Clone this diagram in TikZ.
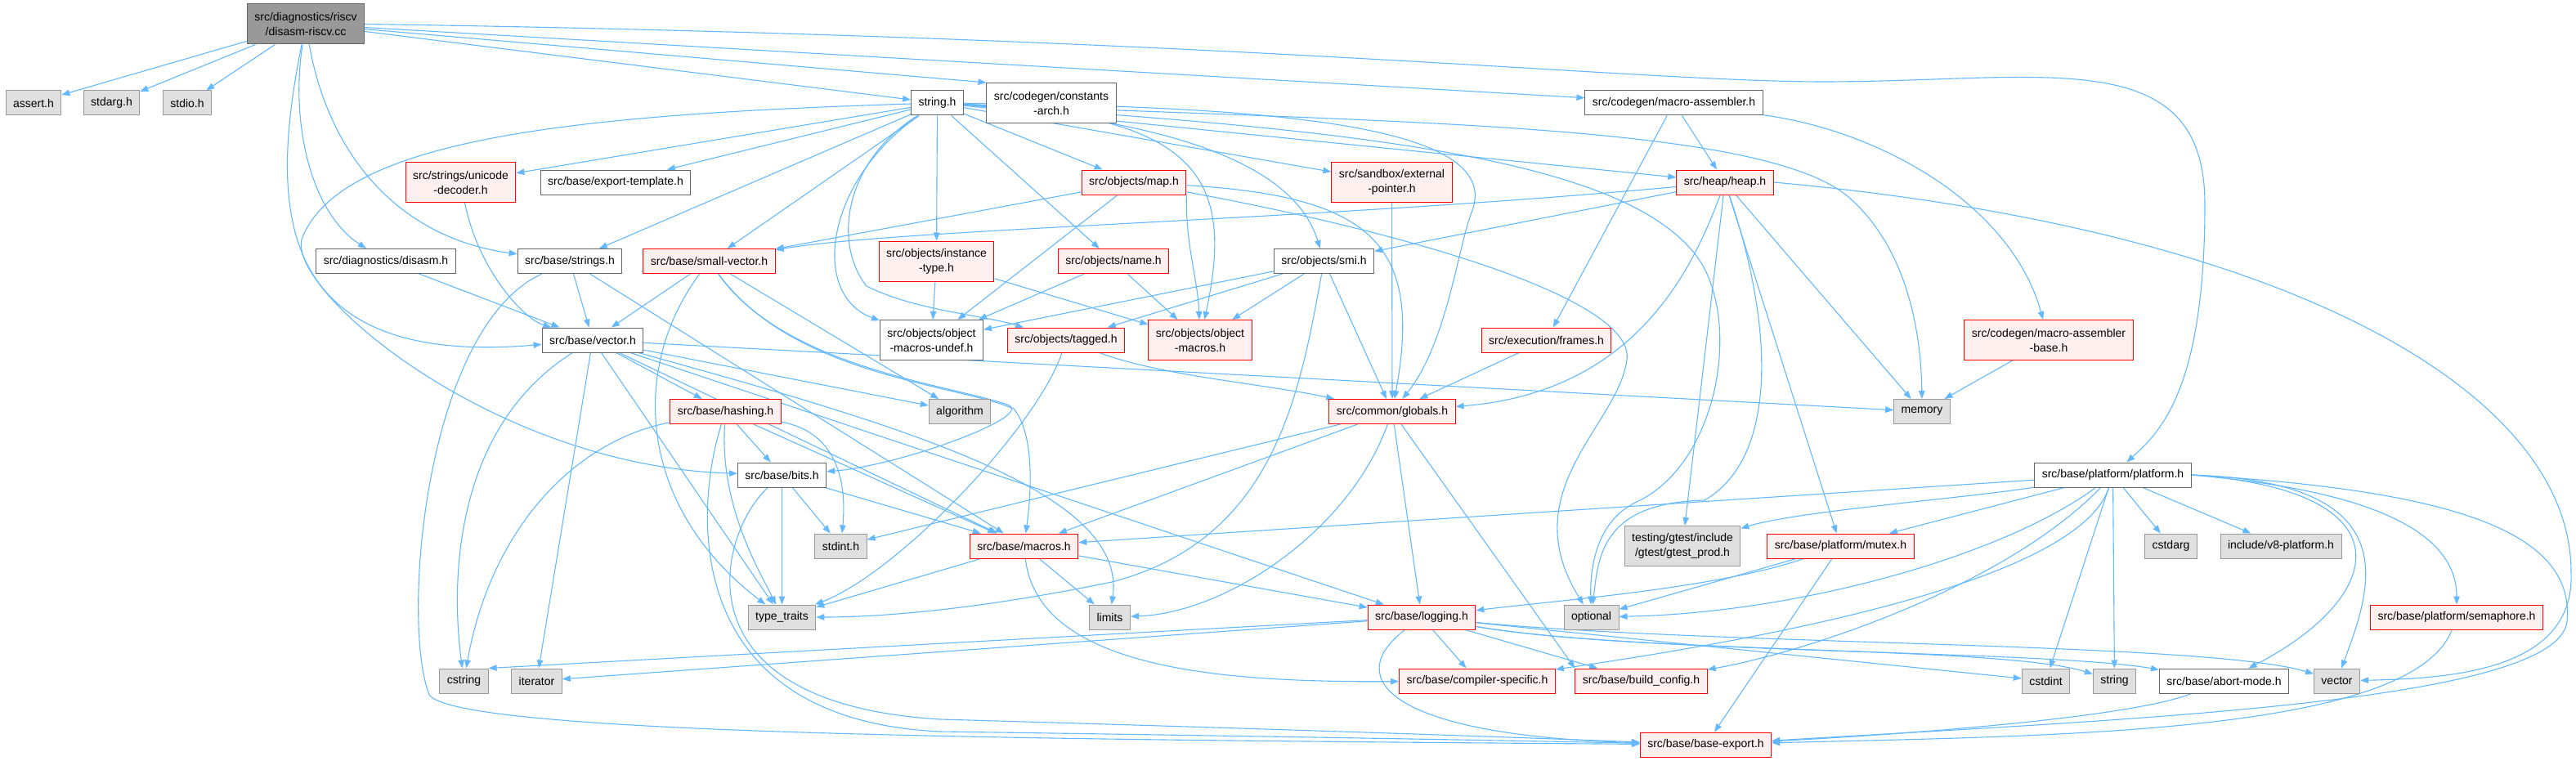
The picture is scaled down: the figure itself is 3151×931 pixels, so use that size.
\documentclass[tikz,border=0pt]{standalone}
\usepackage{fontspec}
\setmainfont{Liberation Sans}
\usetikzlibrary{arrows.meta, backgrounds}
\definecolor{edgeblue}{HTML}{63B8FF}
\definecolor{redfill}{HTML}{FFF0F0}
\definecolor{sysfill}{HTML}{E0E0E0}
\definecolor{grey40}{HTML}{666666}
\definecolor{grey60}{HTML}{999999}

\begin{document}
\begin{tikzpicture}[
  x=1pt, y=-1pt,
  file/.style     = {draw=grey40, fill=white, line width=1pt, align=center,
                     font=\fontsize{14}{18}\selectfont, inner xsep=9pt,
                     inner ysep=6pt, minimum height=30pt},
  redfile/.style  = {file, draw=red, fill=redfill},
  sysfile/.style  = {file, draw=grey60, fill=sysfill},
  rootfile/.style = {file, fill=grey60},
  tall/.style     = {minimum height=49pt},
  inc/.style      = {-{Triangle[length=10pt, width=7.5pt]}, line width=1.1pt, draw=edgeblue},
]
  \useasboundingbox (0,0) rectangle (3151,931);

  \node[rootfile, tall] (root)      at (374,29.5)   {src/diagnostics/riscv\\/disasm-riscv.cc};
  \node[sysfile]        (assert)    at (41,126)     {assert.h};
  \node[sysfile]        (stdarg)    at (136.5,126)  {stdarg.h};
  \node[sysfile]        (stdio)     at (229,126)    {stdio.h};
  \node[file]           (stringh)   at (1146.5,126) {string.h};
  \node[file, tall]     (constarch) at (1286,126)   {src/codegen/constants\\-arch.h};
  \node[file]           (masm)      at (2047.5,126) {src/codegen/macro-assembler.h};

  \node[redfile, tall]  (unicode)   at (563.5,223)  {src/strings/unicode\\-decoder.h};
  \node[file]           (exptmpl)   at (753,223)    {src/base/export-template.h};
  \node[redfile]        (map)       at (1387,223)   {src/objects/map.h};
  \node[redfile, tall]  (extptr)    at (1702.5,223) {src/sandbox/external\\-pointer.h};
  \node[redfile]        (heap)      at (2110,223)   {src/heap/heap.h};

  \node[file]           (disasm)    at (472,319.5)  {src/diagnostics/disasm.h};
  \node[file]           (strings)   at (697,319.5)  {src/base/strings.h};
  \node[redfile]        (smallvec)  at (867.5,319.5) {src/base/small-vector.h};
  \node[redfile, tall]  (insttype)  at (1145.5,319.5) {src/objects/instance\\-type.h};
  \node[redfile]        (objname)   at (1362,319.5) {src/objects/name.h};
  \node[file]           (smi)       at (1619.5,319.5) {src/objects/smi.h};

  \node[file]           (vector)    at (725,416)    {src/base/vector.h};
  \node[file, tall]     (undef)     at (1139.5,416) {src/objects/object\\-macros-undef.h};
  \node[redfile]        (tagged)    at (1304,416)   {src/objects/tagged.h};
  \node[redfile, tall]  (objmacros) at (1468,416)   {src/objects/object\\-macros.h};
  \node[redfile]        (frames)    at (1891.5,416) {src/execution/frames.h};
  \node[redfile, tall]  (masmbase)  at (2506,416)   {src/codegen/macro-assembler\\-base.h};

  \node[redfile]        (hashing)   at (887.5,503.5) {src/base/hashing.h};
  \node[sysfile]        (algorithm) at (1174,503.5) {algorithm};
  \node[redfile]        (globals)   at (1703,503.5) {src/common/globals.h};
  \node[sysfile]        (memory)    at (2351,503.5) {memory};

  \node[file]           (bits)      at (956.5,581)  {src/base/bits.h};
  \node[file]           (platform)  at (2584.5,581) {src/base/platform/platform.h};

  \node[sysfile]        (stdint)    at (1028.5,668) {stdint.h};
  \node[redfile]        (macros)    at (1252.5,668) {src/base/macros.h};
  \node[sysfile, tall]  (gtest)     at (2058,668)   {testing/gtest/include\\/gtest/gtest\_prod.h};
  \node[redfile]        (mutex)     at (2251.5,668) {src/base/platform/mutex.h};
  \node[sysfile]        (cstdarg)   at (2655.5,668) {cstdarg};
  \node[sysfile]        (v8plat)    at (2790,668)   {include/v8-platform.h};

  \node[sysfile]        (typetraits) at (956.5,755) {type\_traits};
  \node[sysfile]        (limits)    at (1357.5,755) {limits};
  \node[redfile]        (logging)   at (1739,755)   {src/base/logging.h};
  \node[sysfile]        (optional)  at (1946.5,755) {optional};
  \node[redfile]        (semaphore) at (3005,755)   {src/base/platform/semaphore.h};

  \node[sysfile]        (cstring)   at (567.5,833)  {cstring};
  \node[sysfile]        (iterator)  at (656.5,833)  {iterator};
  \node[redfile]        (compspec)  at (1807,833)   {src/base/compiler-specific.h};
  \node[redfile]        (buildcfg)  at (2007.5,833) {src/base/build\_config.h};
  \node[sysfile]        (cstdint)   at (2502.5,833) {cstdint};
  \node[sysfile]        (stringx)   at (2586.5,833) {string};
  \node[file]           (abort)     at (2720.5,833) {src/base/abort-mode.h};
  \node[sysfile]        (vectorx)   at (2858.5,833) {vector};

  \node[redfile]        (baseexp)   at (2086.5,911) {src/base/base-export.h};

  \begin{scope}[on background layer]
  % disasm-riscv.cc
  \draw[inc] (root) -- (assert);
  \draw[inc] (root) -- (stdarg);
  \draw[inc] (root) -- (stdio);
  \draw[inc] (root) -- (stringh);
  \draw[inc] (root) -- (constarch.north west);
  \draw[inc] (root) -- (masm);
  \draw[inc] (root.east) .. controls (1500,45) and (2000,100) .. (2230,100)
             .. controls (2500,100) and (2697,50) .. (2697,250)
             .. controls (2697,480) and (2640,530) .. (platform);
  \draw[inc] (root) .. controls (355,150) and (380,260) .. (disasm);
  \draw[inc] (root) .. controls (400,180) and (480,290) .. (strings);
  \draw[inc] (root) .. controls (330,250) and (330,450) .. (vector);

  % string.h
  \draw[inc] (stringh) -- (unicode);
  \draw[inc] (stringh) -- (exptmpl);
  \draw[inc] (stringh) -- (strings);
  \draw[inc] (stringh) -- (smallvec);
  \draw[inc] (stringh) .. controls (700,140) and (420,170) .. (370,290)
             .. controls (345,350) and (600,570) .. (bits);
  \draw[inc] (stringh) -- (insttype);
  \draw[inc] (stringh) .. controls (1010,220) and (990,360) .. (undef);
  \draw[inc] (stringh) .. controls (1030,200) and (1020,300) .. (1060,350)
             .. controls (1120,380) and (1200,385) .. (tagged);
  \draw[inc] (stringh) -- (objname);
  \draw[inc] (stringh) -- (map);
  \draw[inc] (stringh) .. controls (1470,140) and (1510,220) .. (objmacros);
  \draw[inc] (stringh) .. controls (1400,145) and (1580,190) .. (smi);
  \draw[inc] (stringh) -- (extptr);
  \draw[inc] (stringh) -- (heap);
  \draw[inc] (stringh) .. controls (1600,130) and (1840,160) .. (1800,260)
             .. controls (1784,300) and (1770,420) .. (globals);
  \draw[inc] (stringh) .. controls (1700,150) and (2150,150) .. (2260,240)
             .. controls (2330,300) and (2350,400) .. (memory);
  \draw[inc] (stringh) .. controls (1700,160) and (2000,200) .. (2080,320)
             .. controls (2130,400) and (2100,570) .. (2000,615)
             .. controls (1950,640) and (1945,700) .. (optional);

  % objects
  \draw[inc] (map) -- (smallvec);
  \draw[inc] (map) -- (undef);
  \draw[inc] (map.south east) .. controls (1450,300) and (1465,340) .. (objmacros);
  \draw[inc] (map) .. controls (1680,240) and (1740,300) .. (globals);
  \draw[inc] (map) .. controls (1750,290) and (2000,370) .. (1990,440)
             .. controls (1980,520) and (1850,600) .. (optional);
  \draw[inc] (insttype) -- (undef);
  \draw[inc] (insttype) -- (objmacros);
  \draw[inc] (objname) -- (undef);
  \draw[inc] (objname) -- (objmacros);
  \draw[inc] (smi) -- (undef);
  \draw[inc] (smi) -- (tagged);
  \draw[inc] (smi) -- (objmacros);
  \draw[inc] (smi) -- (globals);
  \draw[inc] (smi) .. controls (1590,480) and (1560,660) .. (1360,712)
             .. controls (1200,745) and (1080,755) .. (typetraits);
  \draw[inc] (tagged) .. controls (1420,460) and (1550,470) .. (globals);
  \draw[inc] (tagged) .. controls (1270,520) and (1100,700) .. (typetraits);
  \draw[inc] (extptr) -- (globals);
  \draw[inc] (frames) -- (globals);

  % heap and codegen
  \draw[inc] (heap) -- (smi);
  \draw[inc] (heap) .. controls (1600,270) and (1100,280) .. (smallvec);
  \draw[inc] (heap) .. controls (2070,330) and (2000,480) .. (globals);
  \draw[inc] (heap) .. controls (2170,400) and (2175,560) .. (2085,612)
             .. controls (1960,615) and (1955,680) .. (optional);
  \draw[inc] (heap) -- (gtest);
  \draw[inc] (heap) -- (mutex);
  \draw[inc] (heap) -- (memory);
  \draw[inc] (heap.east) .. controls (2800,280) and (3145,480) .. (3145,700)
             .. controls (3150,820) and (3000,830) .. (vectorx);
  \draw[inc] (masm) -- (heap);
  \draw[inc] (masm) -- (frames);
  \draw[inc] (masm) .. controls (2300,160) and (2460,250) .. (masmbase);
  \draw[inc] (masmbase) -- (memory);

  % base
  \draw[inc] (unicode) .. controls (585,330) and (640,390) .. (vector);
  \draw[inc] (disasm) -- (vector);
  \draw[inc] (strings) -- (vector);
  \draw[inc] (strings) -- (macros);
  \draw[inc] (strings) .. controls (520,400) and (490,760) .. (525,850)
             .. controls (560,900) and (1300,905) .. (baseexp);
  \draw[inc] (smallvec) -- (vector);
  \draw[inc] (smallvec) -- (algorithm);
  \draw[inc] (smallvec) .. controls (770,450) and (780,620) .. (typetraits);
  \draw[inc] (smallvec) .. controls (960,450) and (1160,470) .. (1232,495)
             .. controls (1270,508) and (1100,570) .. (bits);
  \draw[inc] (smallvec) .. controls (970,460) and (1170,470) .. (1240,500)
             .. controls (1265,530) and (1262,600) .. (macros);
  \draw[inc] (vector) -- (hashing);
  \draw[inc] (vector) -- (algorithm);
  \draw[inc] (vector) .. controls (560,520) and (550,700) .. (cstring);
  \draw[inc] (vector) -- (iterator);
  \draw[inc] (vector) -- (typetraits);
  \draw[inc] (vector) -- (macros);
  \draw[inc] (vector) .. controls (1100,520) and (1380,600) .. (limits);
  \draw[inc] (vector) -- (memory);
  \draw[inc] (vector) -- (logging);
  \draw[inc] (hashing) -- (bits);
  \draw[inc] (hashing) .. controls (1030,530) and (1035,600) .. (stdint);
  \draw[inc] (hashing) -- (macros);
  \draw[inc] (hashing) .. controls (880,620) and (930,700) .. (typetraits);
  \draw[inc] (hashing) .. controls (700,540) and (600,650) .. (cstring);
  \draw[inc] (hashing) .. controls (850,620) and (830,880) .. (1150,895)
             .. controls (1500,900) and (1800,905) .. (baseexp);
  \draw[inc] (bits) -- (stdint);
  \draw[inc] (bits) -- (typetraits);
  \draw[inc] (bits) -- (macros);
  \draw[inc] (bits) .. controls (880,650) and (820,860) .. (1150,880)
             .. controls (1500,890) and (1800,900) .. (baseexp);
  \draw[inc] (globals) -- (macros);
  \draw[inc] (globals) -- (stdint);
  \draw[inc] (globals) -- (logging);
  \draw[inc] (globals) -- (buildcfg.north west);
  \draw[inc] (globals) .. controls (1650,650) and (1500,750) .. (limits);
  \draw[inc] (macros) -- (typetraits);
  \draw[inc] (macros) -- (limits);
  \draw[inc] (macros) -- (logging);
  \draw[inc] (macros) .. controls (1270,820) and (1500,835) .. (compspec);
  \draw[inc] (logging) -- (compspec);
  \draw[inc] (logging) -- (buildcfg);
  \draw[inc] (logging) .. controls (1640,830) and (1700,900) .. (baseexp);
  \draw[inc] (logging) -- (cstring.north east);
  \draw[inc] (logging) -- (iterator);
  \draw[inc] (logging) -- (cstdint);
  \draw[inc] (logging) .. controls (2000,800) and (2450,790) .. (stringx);
  \draw[inc] (logging) .. controls (2000,800) and (2500,795) .. (abort);
  \draw[inc] (logging) .. controls (2100,790) and (2700,785) .. (vectorx);

  % platform
  \draw[inc] (mutex) .. controls (2100,720) and (1900,735) .. (logging);
  \draw[inc] (mutex) -- (optional);
  \draw[inc] (mutex) -- (baseexp);
  \draw[inc] (platform) -- (macros);
  \draw[inc] (platform) .. controls (2400,610) and (2200,625) .. (gtest);
  \draw[inc] (platform) -- (mutex);
  \draw[inc] (platform) .. controls (2450,680) and (2200,750) .. (optional);
  \draw[inc] (platform) .. controls (2540,720) and (2100,790) .. (compspec);
  \draw[inc] (platform) .. controls (2450,720) and (2200,800) .. (buildcfg);
  \draw[inc] (platform) -- (cstdint);
  \draw[inc] (platform) -- (stringx);
  \draw[inc] (platform) -- (cstdarg);
  \draw[inc] (platform) -- (v8plat);
  \draw[inc] (platform.east) .. controls (2950,600) and (2920,730) .. (abort);
  \draw[inc] (platform.east) .. controls (2950,590) and (2900,720) .. (vectorx);
  \draw[inc] (platform.east) .. controls (2900,600) and (3005,650) .. (semaphore);
  \draw[inc] (platform.east) .. controls (3000,600) and (3150,650) .. (3140,760)
             .. controls (3130,860) and (2600,880) .. (baseexp);
  \draw[inc] (semaphore) .. controls (2950,900) and (2500,900) .. (baseexp);
  \draw[inc] (abort) .. controls (2600,880) and (2300,900) .. (baseexp);
  \end{scope}
\end{tikzpicture}
\end{document}
